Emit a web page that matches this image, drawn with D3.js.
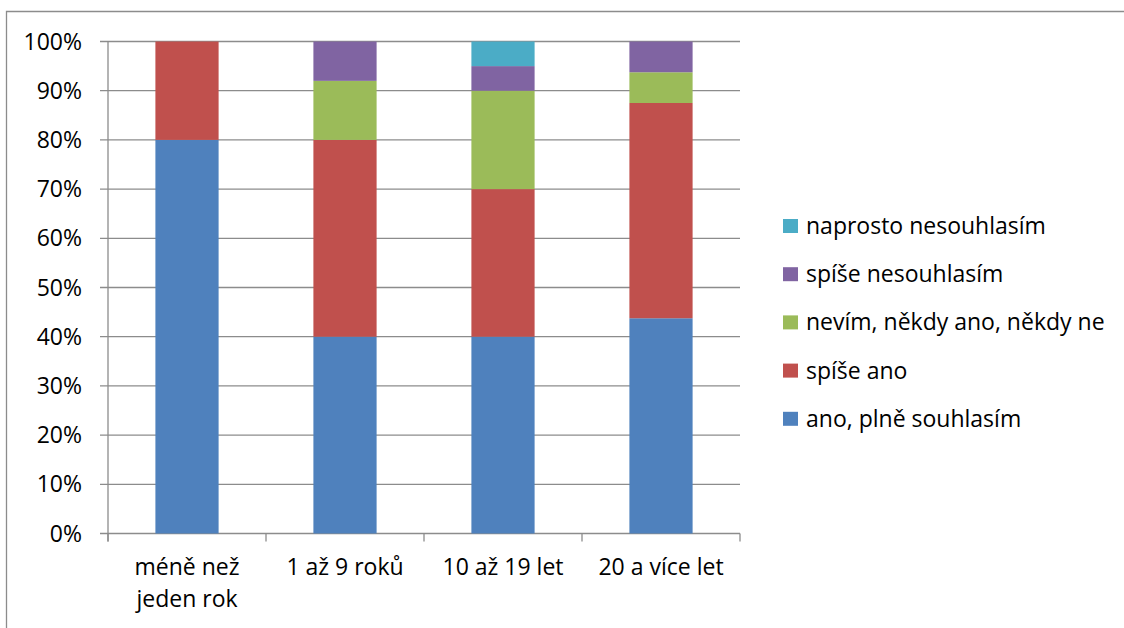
<!DOCTYPE html>
<html>
<head>
<meta charset="utf-8">
<script src="https://cdn.jsdelivr.net/npm/d3@7"></script>
<style>
  html, body { margin: 0; padding: 0; background: #fff; }
  svg { display: block; }
  text { font-family: "Open Sans", "Noto Sans", sans-serif; fill: #000; }
</style>
</head>
<body>
<svg id="chart" width="1124" height="628"></svg>
<script>
// Length of employment groups
const categories = ["méně než jeden rok", "1 až 9 roků", "10 až 19 let", "20 a více let"];
const categoryLines = [["méně než", "jeden rok"], ["1 až 9 roků"], ["10 až 19 let"], ["20 a více let"]];

// Share of answers (%) per group
const anoPlne      = [80, 40, 40, 43.75];
const spiseAno     = [20, 40, 30, 43.75];
const nevim        = [0, 12, 20, 6.25];
const spiseNe      = [0, 8, 5, 6.25];
const naprostoNe   = [0, 0, 5, 0];

const seriesNames = ["ano, plně souhlasím", "spíše ano", "nevím, někdy ano, někdy ne", "spíše nesouhlasím", "naprosto nesouhlasím"];
const seriesColors = ["#4F81BD", "#C0504D", "#9BBB59", "#8064A2", "#4BACC6"];
const yTicks = [0, 10, 20, 30, 40, 50, 60, 70, 80, 90, 100];

const seriesValues = [anoPlne, spiseAno, nevim, spiseNe, naprostoNe];
const rows = categories.map((c, i) => {
  const r = { category: c };
  seriesNames.forEach((s, k) => { r[s] = seriesValues[k][i]; });
  return r;
});

const FS = 23;
const svg = d3.select("#chart");

// outer frame (open on the right and bottom)
svg.append("path")
  .attr("d", "M6.5,640 V11.5 H1140")
  .attr("fill", "none")
  .attr("stroke", "#8c8c8c")
  .attr("stroke-width", 1.3);

const plot = { left: 108, right: 740, top: 41.5, bottom: 533.5 };

const x = d3.scaleBand().domain(categories).range([plot.left, plot.right]).paddingInner(0).paddingOuter(0);
const y = d3.scaleLinear().domain([0, 100]).range([plot.bottom, plot.top]);
const barW = x.bandwidth() * 0.4;

// horizontal gridlines with left tick stubs
svg.append("g").selectAll("line").data(yTicks).join("line")
  .attr("x1", plot.left - 8).attr("x2", plot.right)
  .attr("y1", d => y(d)).attr("y2", d => y(d))
  .attr("stroke", "#8c8c8c").attr("stroke-width", 1.3);

// y tick labels
svg.append("g").selectAll("text").data(yTicks).join("text")
  .attr("x", 82).attr("y", d => y(d) + 8)
  .attr("text-anchor", "end")
  .attr("font-size", FS)
  .text(d => d + "%");

// stacked bars
const stack = d3.stack().keys(seriesNames);
const layers = stack(rows);
svg.append("g").selectAll("g").data(layers).join("g")
  .attr("fill", (d, i) => seriesColors[i])
  .selectAll("rect").data(d => d).join("rect")
  .attr("x", d => x(d.data.category) + (x.bandwidth() - barW) / 2)
  .attr("width", barW)
  .attr("y", d => y(d[1]))
  .attr("height", d => Math.max(0, y(d[0]) - y(d[1])));

// axes lines
svg.append("line")
  .attr("x1", plot.left).attr("x2", plot.left)
  .attr("y1", plot.top).attr("y2", plot.bottom + 8)
  .attr("stroke", "#8c8c8c").attr("stroke-width", 1.3);
const xTickPos = categories.map(c => x(c)).concat([plot.right]);
svg.append("g").selectAll("line").data(xTickPos).join("line")
  .attr("x1", d => d).attr("x2", d => d)
  .attr("y1", plot.bottom).attr("y2", plot.bottom + 8)
  .attr("stroke", "#8c8c8c").attr("stroke-width", 1.3);

// category labels
const xl = svg.append("g").selectAll("text").data(categories).join("text")
  .attr("x", d => x(d) + x.bandwidth() / 2)
  .attr("y", 575)
  .attr("text-anchor", "middle")
  .attr("font-size", FS);
xl.each(function(d, i) {
  d3.select(this).selectAll("tspan").data(categoryLines[i]).join("tspan")
    .attr("x", x(d) + x.bandwidth() / 2)
    .attr("dy", (t, j) => j === 0 ? 0 : 32)
    .text(t => t);
});

// legend (top entry is the top of the stack)
const legendOrder = seriesNames.map((s, i) => i).reverse();
const lg = svg.append("g").selectAll("g").data(legendOrder).join("g")
  .attr("transform", (d, j) => `translate(783, ${226 + j * 48.2})`);
lg.append("rect")
  .attr("x", 0).attr("y", -7).attr("width", 15).attr("height", 14)
  .attr("fill", d => seriesColors[d]);
lg.append("text")
  .attr("x", 23).attr("y", 8)
  .attr("font-size", FS)
  .text(d => seriesNames[d]);
</script>
</body>
</html>
